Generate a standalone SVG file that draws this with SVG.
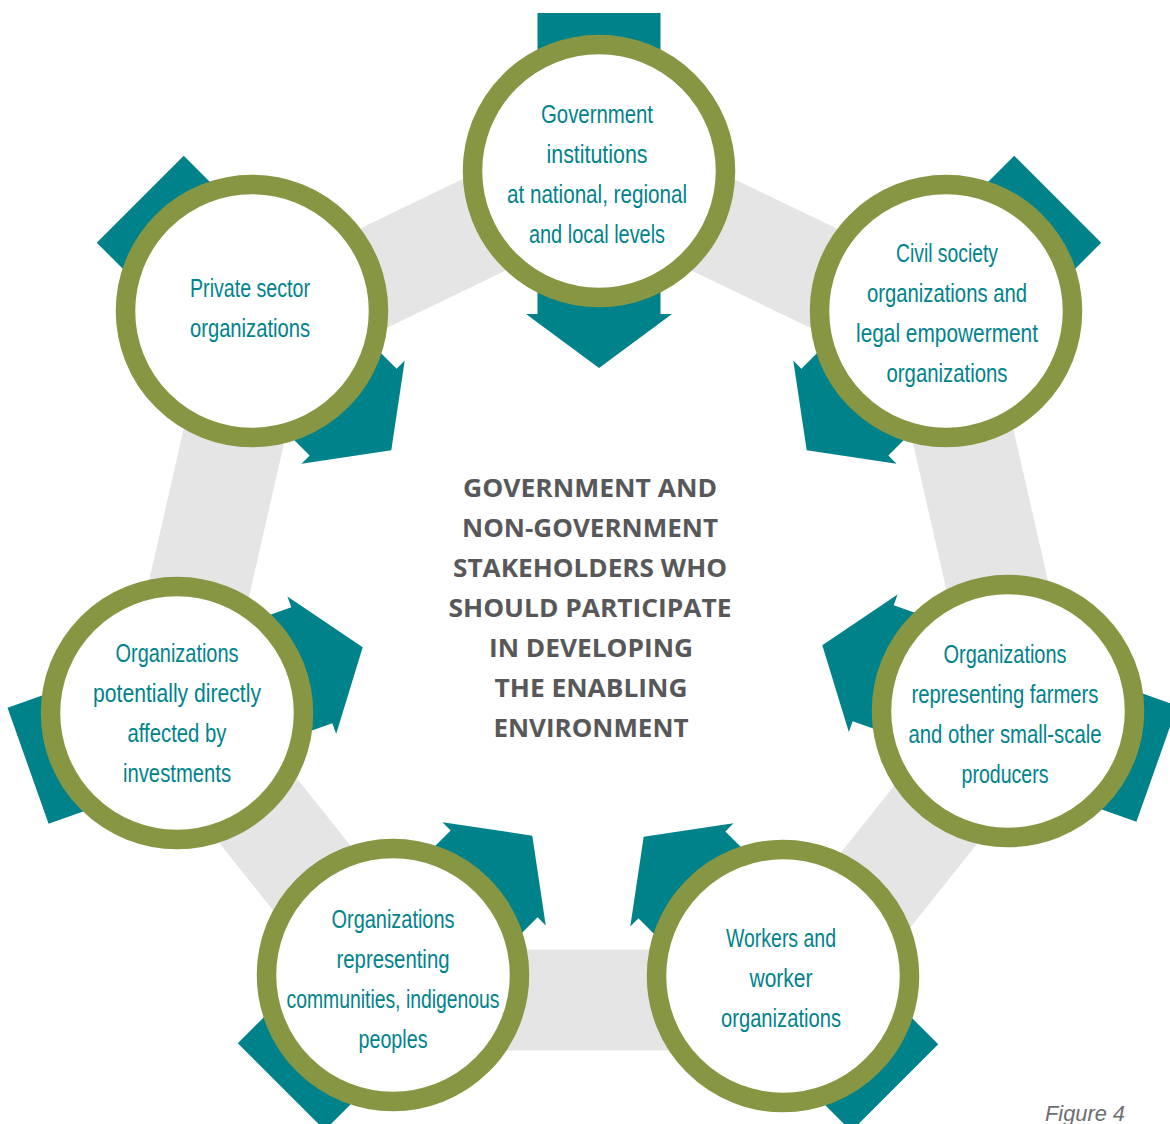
<svg xmlns="http://www.w3.org/2000/svg" width="1170" height="1124" viewBox="0 0 1170 1124">
<defs>
<style>
.band{fill:none;stroke:#e5e5e5;stroke-width:101;stroke-linejoin:miter}
.arrow{fill:#00828b}
.ring{fill:#ffffff;stroke:#879643;stroke-width:19.5}
.lbl{font-family:"Liberation Sans",Arial,sans-serif;font-size:25px;fill:#00838c;text-anchor:middle}
.ctr{font-family:"Open Sans","Liberation Sans",sans-serif;font-weight:bold;font-size:25px;fill:#58585a;text-anchor:middle}
.fig{font-family:"Liberation Sans",Arial,sans-serif;font-style:italic;font-size:22px;fill:#6d6e71}
</style>
<path id="arr" d="M-158,-61.5 L143,-61.5 L143,-73 L197,0 L143,73 L143,61.5 L-158,61.5 Z"/>
</defs>
<rect width="1170" height="1124" fill="#ffffff"/>
<g id="connectors">
<path class="band" d="M598.5,169.8 L939.9,334.2 L1024.2,703.7 L788,1000 L409,1000 L172.8,703.7 L257.1,334.2 Z"/>
</g>
<g id="arrows">
<use href="#arr" class="arrow" transform="translate(599,171) rotate(90)"/>
<use href="#arr" class="arrow" transform="translate(946,311) rotate(135)"/>
<use href="#arr" class="arrow" transform="translate(1008,711) rotate(199.5)"/>
<use href="#arr" class="arrow" transform="translate(783,976) rotate(225)"/>
<use href="#arr" class="arrow" transform="translate(393,975) rotate(315)"/>
<use href="#arr" class="arrow" transform="translate(177,713) rotate(340.5)"/>
<use href="#arr" class="arrow" transform="translate(252,311) rotate(45)"/>
</g>
<g id="node-government">
<circle class="ring" cx="599" cy="171" r="126.5"/>
<text class="lbl"><tspan x="597" y="123" textLength="112" lengthAdjust="spacingAndGlyphs">Government</tspan><tspan x="597" y="163" textLength="101" lengthAdjust="spacingAndGlyphs">institutions</tspan><tspan x="597" y="203" textLength="180" lengthAdjust="spacingAndGlyphs">at national, regional</tspan><tspan x="597" y="243" textLength="136" lengthAdjust="spacingAndGlyphs">and local levels</tspan></text>
</g>
<g id="node-civil-society">
<circle class="ring" cx="946" cy="311" r="126.5"/>
<text class="lbl"><tspan x="947" y="262" textLength="102" lengthAdjust="spacingAndGlyphs">Civil society</tspan><tspan x="947" y="302" textLength="160" lengthAdjust="spacingAndGlyphs">organizations and</tspan><tspan x="947" y="342" textLength="182" lengthAdjust="spacingAndGlyphs">legal empowerment</tspan><tspan x="947" y="382" textLength="121" lengthAdjust="spacingAndGlyphs">organizations</tspan></text>
</g>
<g id="node-farmers">
<circle class="ring" cx="1008" cy="711" r="126.5"/>
<text class="lbl"><tspan x="1005" y="663" textLength="123" lengthAdjust="spacingAndGlyphs">Organizations</tspan><tspan x="1005" y="703" textLength="187" lengthAdjust="spacingAndGlyphs">representing farmers</tspan><tspan x="1005" y="743" textLength="193" lengthAdjust="spacingAndGlyphs">and other small-scale</tspan><tspan x="1005" y="783" textLength="87" lengthAdjust="spacingAndGlyphs">producers</tspan></text>
</g>
<g id="node-workers">
<circle class="ring" cx="783" cy="976" r="126.5"/>
<text class="lbl"><tspan x="781" y="947" textLength="110" lengthAdjust="spacingAndGlyphs">Workers and</tspan><tspan x="781" y="987" textLength="63" lengthAdjust="spacingAndGlyphs">worker</tspan><tspan x="781" y="1027" textLength="120" lengthAdjust="spacingAndGlyphs">organizations</tspan></text>
</g>
<g id="node-communities">
<circle class="ring" cx="393" cy="975" r="126.5"/>
<text class="lbl"><tspan x="393" y="928" textLength="123" lengthAdjust="spacingAndGlyphs">Organizations</tspan><tspan x="393" y="968" textLength="113" lengthAdjust="spacingAndGlyphs">representing</tspan><tspan x="393" y="1008" textLength="213" lengthAdjust="spacingAndGlyphs">communities, indigenous</tspan><tspan x="393" y="1048" textLength="69" lengthAdjust="spacingAndGlyphs">peoples</tspan></text>
</g>
<g id="node-affected">
<circle class="ring" cx="177" cy="713" r="126.5"/>
<text class="lbl"><tspan x="177" y="662" textLength="123" lengthAdjust="spacingAndGlyphs">Organizations</tspan><tspan x="177" y="702" textLength="168" lengthAdjust="spacingAndGlyphs">potentially directly</tspan><tspan x="177" y="742" textLength="99" lengthAdjust="spacingAndGlyphs">affected by</tspan><tspan x="177" y="782" textLength="108" lengthAdjust="spacingAndGlyphs">investments</tspan></text>
</g>
<g id="node-private">
<circle class="ring" cx="252" cy="311" r="126.5"/>
<text class="lbl"><tspan x="250" y="297" textLength="120" lengthAdjust="spacingAndGlyphs">Private sector</tspan><tspan x="250" y="337" textLength="120" lengthAdjust="spacingAndGlyphs">organizations</tspan></text>
</g>
<g id="center-title">
<text class="ctr"><tspan x="590" y="497" textLength="254" lengthAdjust="spacingAndGlyphs">GOVERNMENT AND</tspan><tspan x="590" y="537" textLength="256" lengthAdjust="spacingAndGlyphs">NON-GOVERNMENT</tspan><tspan x="590" y="577" textLength="274" lengthAdjust="spacingAndGlyphs">STAKEHOLDERS WHO</tspan><tspan x="590" y="617" textLength="283" lengthAdjust="spacingAndGlyphs">SHOULD PARTICIPATE</tspan><tspan x="591" y="657" textLength="204" lengthAdjust="spacingAndGlyphs">IN DEVELOPING</tspan><tspan x="591" y="697" textLength="193" lengthAdjust="spacingAndGlyphs">THE ENABLING</tspan><tspan x="591" y="737" textLength="195" lengthAdjust="spacingAndGlyphs">ENVIRONMENT</tspan></text>
</g>
<text class="fig" x="1045" y="1121" textLength="80" lengthAdjust="spacingAndGlyphs">Figure 4</text>
</svg>
